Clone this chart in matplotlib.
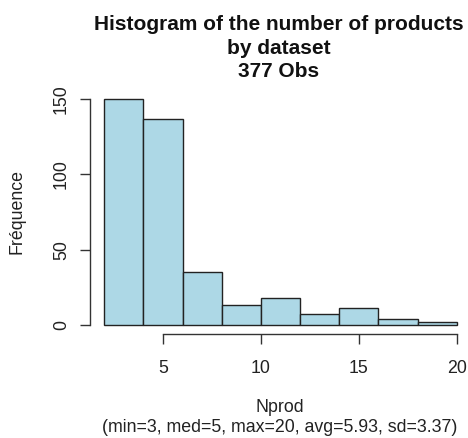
import matplotlib
matplotlib.use("Agg")
import matplotlib.pyplot as plt

# histogram of Nprod (377 observations), bins of width 2
bin_edges = [2, 4, 6, 8, 10, 12, 14, 16, 18, 20]
counts = [150, 137, 35, 13, 18, 7, 11, 4, 2]
x_ticks = [5, 10, 15, 20]
y_ticks = [0, 50, 100, 150]

plt.rcParams['font.family'] = ['Liberation Sans', 'DejaVu Sans']

W, H = 468, 438
fig = plt.figure(figsize=(W / 100, H / 100), dpi=100)
ax = fig.add_axes([90 / W, 1 - 334 / H, 381 / W, 244 / H])

ax.bar(bin_edges[:-1], counts, width=2, align='edge',
       color='#add8e6', edgecolor='#222222', linewidth=1.0)

ax.set_xlim(1.28, 20.72)
ax.set_ylim(-6, 156)

for s in ['top', 'right']:
    ax.spines[s].set_visible(False)
ax.spines['left'].set_bounds(0, 150)
ax.spines['bottom'].set_bounds(5, 20)
for s in ['left', 'bottom']:
    ax.spines[s].set_color('#333333')
    ax.spines[s].set_linewidth(1.0)

ax.set_xticks(x_ticks)
ax.set_yticks(y_ticks)
ax.set_yticklabels([str(v) for v in y_ticks], rotation=90, va='center')
ax.tick_params(axis='both', length=7.5, width=1.0, color='#333333',
               labelsize=12.8, labelcolor='#222222')
ax.tick_params(axis='x', pad=11)
ax.tick_params(axis='y', pad=7)

ax.set_ylabel('Fréquence', fontsize=12.8, color='#222222', va='center')
ax.yaxis.set_label_coords((17 - 90) / 381, 0.5)
ax.set_xlabel('Nprod', fontsize=12.8, color='#222222', va='center')
ax.xaxis.set_label_coords((280 - 90) / 381, (334 - 408) / 244)
fig.text(280 / W, 1 - 428 / H, '(min=3, med=5, max=20, avg=5.93, sd=3.37)',
         ha='center', va='center', fontsize=12.8, color='#222222')

fig.text(279 / W, 1 - 48 / H, 'Histogram of the number of products\nby dataset\n377 Obs',
         ha='center', va='center', fontsize=15, fontweight='bold',
         linespacing=1.3, color='#111111')

fig.savefig('out.png', dpi=100)
